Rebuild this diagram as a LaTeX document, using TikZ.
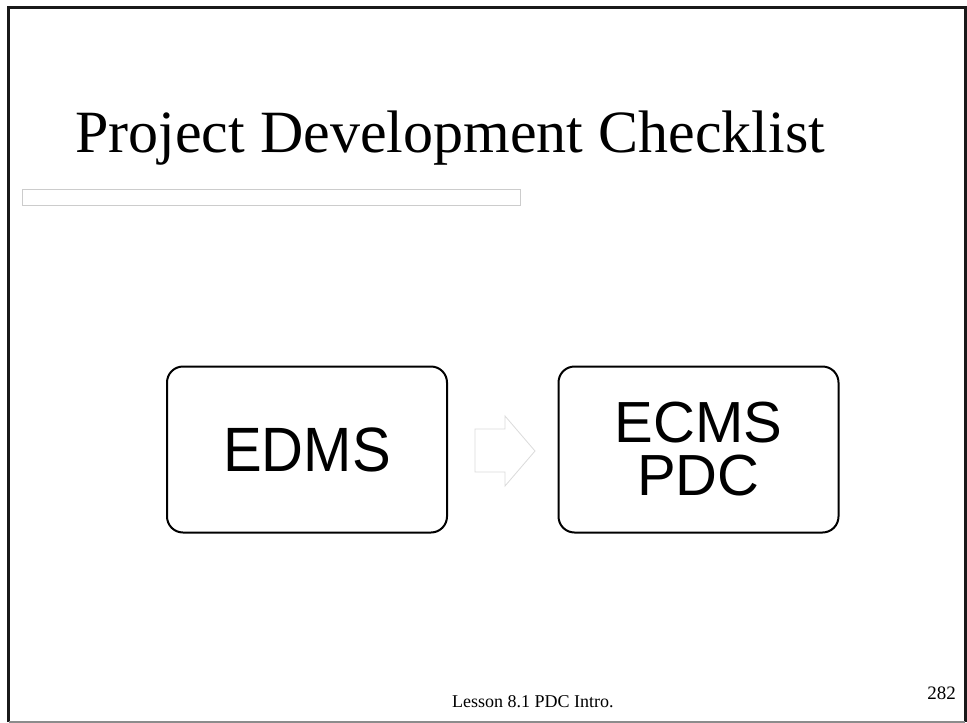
\documentclass[tikz,border=0pt]{standalone}
\usepackage{fontspec}
\setmainfont{Liberation Serif}
\newfontfamily\arialfont{Liberation Sans}
\begin{document}
\begin{tikzpicture}[x=1pt,y=-1pt,
  stagebox/.style={draw=black,line width=2pt,rounded corners=16pt,minimum width=280pt,minimum height=166pt,inner sep=0pt,align=center},
  flowarrow/.style={draw=black!14,fill=white,line width=0.8pt}]
\useasboundingbox (0,0) rectangle (967,723);
\fill[white] (0,0) rectangle (967,723);
% frame
\draw[black!90,line width=3pt] (8.5,722) -- (8.5,7.5) -- (965,7.5) -- (965,722);
\draw[black!45,line width=1.5pt] (8.5,722) -- (965,722);
% title
\node[anchor=base west,inner sep=0pt,font=\fontsize{60}{60}\selectfont] (title) at (75,152) {Project Development Checklist};
% gray bar
\node[draw=black!20,line width=0.8pt,minimum width=498pt,minimum height=16pt,inner sep=0pt,anchor=north west] (bar) at (22,189) {};
% boxes
\node[stagebox] (edms) at (307,449.5) {\arialfont\scalebox{1}[1.08]{\fontsize{58}{58}\selectfont EDMS}};
\node[stagebox,font=\arialfont\fontsize{58}{53}\selectfont] (ecms) at (698.5,449.5) {ECMS\\PDC};
% arrow
\coordinate (a1) at (475,429);
\draw[flowarrow] (a1) -- (505,429) -- (505,416) -- (535,451) -- (505,486) -- (505,472) -- (475,472) -- cycle;
% footer
\node[anchor=base west,inner sep=0pt,font=\fontsize{18}{18}\selectfont] (footer) at (452,707) {Lesson 8.1 PDC Intro.};
\node[anchor=base east,inner sep=0pt,font=\fontsize{19}{19}\selectfont] (pageno) at (956,699) {282};
\end{tikzpicture}
\end{document}
